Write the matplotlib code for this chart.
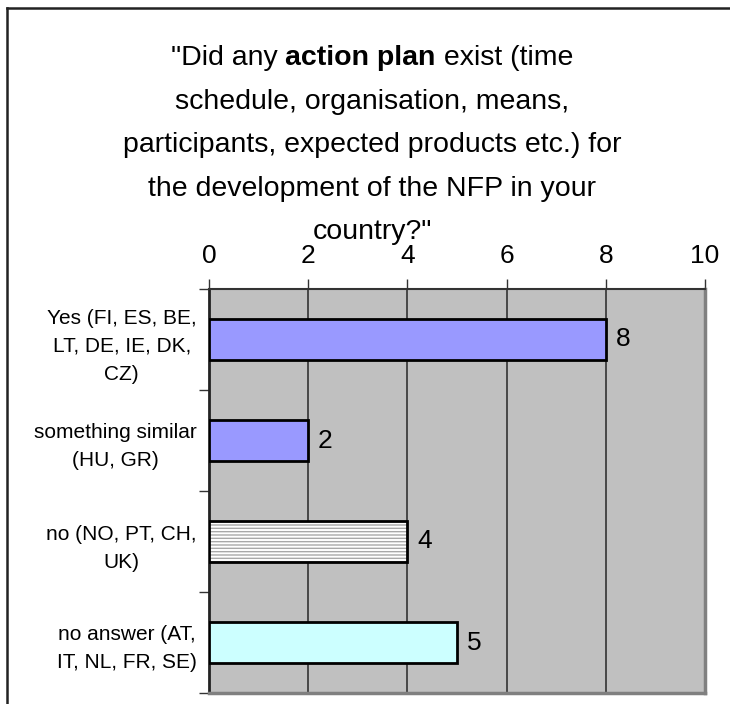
import numpy as np
import matplotlib
matplotlib.use("Agg")
import matplotlib.pyplot as plt
from matplotlib.lines import Line2D

plt.rcParams['font.family'] = ['Liberation Sans', 'DejaVu Sans']
plt.rcParams['hatch.linewidth'] = 1.0

# data
categories = [
    'Yes (FI, ES, BE,\nLT, DE, IE, DK,\nCZ)',
    'something similar\n(HU, GR)',
    'no (NO, PT, CH,\nUK)',
    'no answer (AT,\nIT, NL, FR, SE)',
]
counts = [8, 2, 4, 5]
bar_colors = ['#9999FF', '#9999FF', '#FFFFFF', '#CCFFFF']
bar_hatches = [None, None, '-----', None]
x_ticks = [0, 2, 4, 6, 8, 10]

title_lines = [
    None,  # first line has a bold part, drawn separately
    'schedule, organisation, means,',
    'participants, expected products etc.) for',
    'the development of the NFP in your',
    'country?"',
]
title_first = ['"Did any ', 'action plan', ' exist (time']
title_first_weight = ['normal', 'bold', 'normal']

W, H = 730, 704
fig = plt.figure(figsize=(W / 100, H / 100), dpi=100)

ax = fig.add_axes([209 / W, 1 - 693 / H, 496 / W, 404 / H])
ax.set_facecolor('#C0C0C0')

y = np.arange(len(categories))
for i, (v, c, h) in enumerate(zip(counts, bar_colors, bar_hatches)):
    if h:
        ax.barh(y[i], v, height=0.41, color=c, hatch=h, edgecolor='#A8A8A8',
                linewidth=0, zorder=3)
        ax.barh(y[i], v, height=0.41, fill=False, edgecolor='black',
                linewidth=2, zorder=4)
    else:
        ax.barh(y[i], v, height=0.41, color=c, edgecolor='black',
                linewidth=2, zorder=3)
    ax.text(v + 0.2, y[i], str(v), va='center', ha='left', fontsize=19,
            zorder=5)

ax.set_xlim(0, 10)
ax.set_ylim(len(categories) - 0.5, -0.5)

ax.xaxis.tick_top()
ax.set_xticks(x_ticks)
ax.set_xticklabels([str(t) for t in x_ticks], fontsize=19)
ax.tick_params(axis='x', direction='out', length=7, width=1, pad=8,
               color='#333333')
for t in x_ticks[1:-1]:
    ax.axvline(t, color='#333333', linewidth=1.2, zorder=2)

# category boundaries get the ticks, labels sit in between
ax.set_yticks(np.arange(-0.5, len(categories), 1.0))
ax.set_yticklabels([])
ax.set_yticks(y, minor=True)
ax.set_yticklabels(categories, minor=True, fontsize=15, ha='right',
                   multialignment='center', linespacing=1.6)
ax.tick_params(axis='y', which='major', direction='out', length=7, width=1,
               color='#333333')
ax.tick_params(axis='y', which='minor', length=0, pad=9)

ax.spines['left'].set_color('#222222')
ax.spines['left'].set_linewidth(2)
ax.spines['top'].set_color('#333333')
ax.spines['top'].set_linewidth(1.5)
ax.spines['right'].set_color('#808080')
ax.spines['right'].set_linewidth(2.5)
ax.spines['bottom'].set_color('#808080')
ax.spines['bottom'].set_linewidth(2.5)

# title, line by line
title_fs = 20.5
cx = 372
line_y = [58, 102, 145, 189, 232]
fig.canvas.draw()
rend = fig.canvas.get_renderer()
pieces = []
widths = []
for s, w in zip(title_first, title_first_weight):
    t = fig.text(0, 1 - line_y[0] / H, s, fontsize=title_fs, fontweight=w,
                 va='center', ha='left')
    pieces.append(t)
    widths.append(t.get_window_extent(rend).width)
x0 = cx - sum(widths) / 2
for t, w in zip(pieces, widths):
    t.set_x(x0 / W)
    x0 += w
for s, yy in zip(title_lines[1:], line_y[1:]):
    fig.text(cx / W, 1 - yy / H, s, fontsize=title_fs, va='center',
             ha='center')

# outer chart frame (cut at right and bottom)
fig.add_artist(Line2D([7 / W, 7 / W], [1 - 8 / H, -0.1], color='#222222',
                      linewidth=1.8, transform=fig.transFigure))
fig.add_artist(Line2D([7 / W, 1.1], [1 - 8 / H, 1 - 8 / H], color='#222222',
                      linewidth=1.8, transform=fig.transFigure))

fig.savefig('out.png', dpi=100)
